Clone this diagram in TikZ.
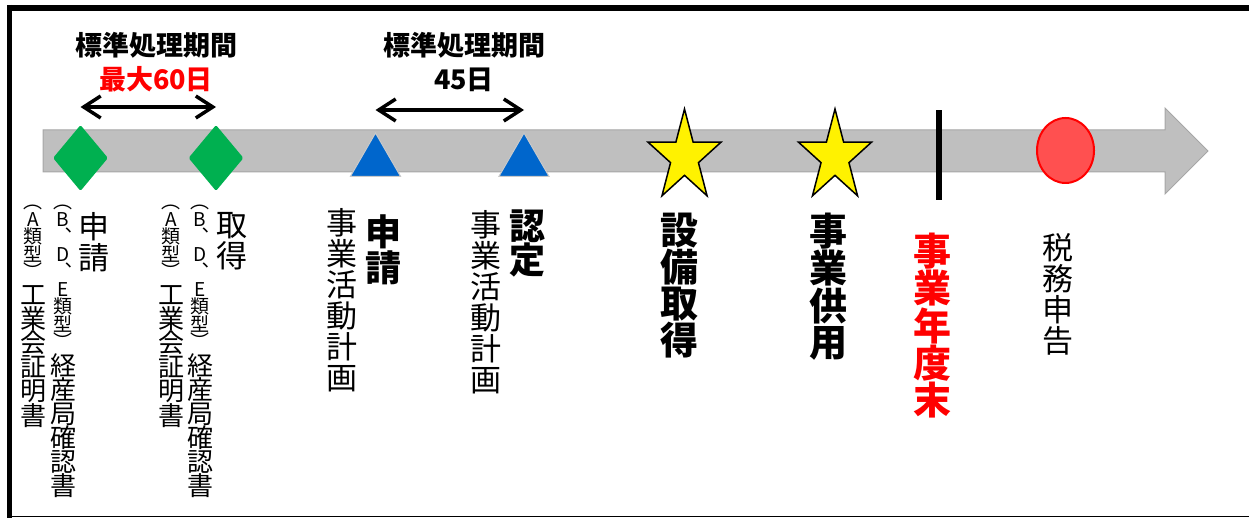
\documentclass[tikz,border=0pt]{standalone}
\usepackage{fontspec}
\usepackage{tikz}
\usetikzlibrary{shapes.geometric,arrows.meta,positioning}
\newfontfamily\jp{Noto Sans CJK JP}

\definecolor{tlgray}{HTML}{BFBFBF}
\definecolor{tledge}{HTML}{A6A6A6}
\definecolor{gemgreen}{HTML}{00B050}
\definecolor{triblue}{HTML}{0066CC}
\definecolor{dotred}{HTML}{FF5050}

\tikzset{
  timeline/.style={fill=tlgray, draw=tledge, line width=1pt},
  gem/.style={diamond, fill=gemgreen, minimum width=55pt, minimum height=66pt, inner sep=0pt, rounded corners=1.5pt},
  tri/.style={regular polygon, regular polygon sides=3, fill=triblue, draw=tledge!60, line width=1pt, minimum size=58pt, inner sep=0pt},
  bigstar/.style={star, star points=5, star point ratio=2.618, fill=yellow, draw=black, line width=1.5pt, minimum size=96pt, inner sep=0pt},
  spanarrow/.style={{Straight Barb[length=17pt,width=22pt]}-{Straight Barb[length=17pt,width=22pt]}, line width=3.5pt},
  hdr/.style={align=center, inner sep=0pt, font=\jp\bfseries\fontsize{27}{34}\selectfont},
  vt/.style={align=center, inner sep=0pt, anchor=north},
  tiny/.style={vt, font=\jp\fontsize{19}{17.5}\selectfont},
  doc/.style={vt, font=\jp\fontsize{26}{24}\selectfont},
  reg/.style={vt, font=\jp\fontsize{31}{31}\selectfont},
  heavy/.style={vt, font=\jp\bfseries\fontsize{38}{36}\selectfont},
}

\begin{document}
\begin{tikzpicture}[x=1pt, y=-1pt]
  \useasboundingbox (0,0) rectangle (1249,518);
  % frame
  \draw[line width=6pt] (7,8) -- (1249,8);
  \draw[line width=5.5pt] (9.5,5) -- (9.5,518);
  \draw[line width=1.5pt] (7,516.5) -- (1249,516.5);
  % time line
  \draw[timeline] (43,130) -- (1165,130) -- (1165,108) -- (1208,151) -- (1165,194) -- (1165,172) -- (43,172) -- cycle;

  % markers
  \node[gem] (d1) at (80.5,158) {};
  \node[gem] (d2) at (216,158) {};
  \node[tri] (t1) at (375.5,162) {};
  \node[tri] (t2) at (524,162) {};
  \begin{scope}[shift={(684.5,157)}, xscale=0.8]
    \node[bigstar, transform shape] (s1) at (0,0) {};
  \end{scope}
  \begin{scope}[shift={(835,157)}, xscale=0.8]
    \node[bigstar, transform shape] (s2) at (0,0) {};
  \end{scope}
  \node[fill=black, minimum width=6pt, minimum height=90pt, inner sep=0pt] (fyend) at (939,155) {};
  \node[ellipse, fill=dotred, draw=red, line width=2pt, minimum width=57pt, minimum height=65pt, inner sep=0pt] (tax) at (1065.5,150.5) {};

  % standard periods
  \draw[spanarrow] (d1 |- 0,107) -- (d2 |- 0,107);
  \node[hdr] (h1) at (156,62) {標準処理期間\\{\color{red}最大60日}};
  \draw[spanarrow] (t1 |- 0,110) -- (t2 |- 0,110);
  \node[hdr] (h2) at (464,62) {標準処理期間\\45日};

  % labels
  \node[tiny] (pa1) at (33,205) {︵\\A\\類\\型\\︶};
  \node[doc] (ca1) at (33,285) {工\\業\\会\\証\\明\\書};
  \node[tiny] (pb1) at (63,205) {︵\\B\\︑\\D\\︑\\E\\類\\型\\︶};
  \node[doc] (cb1) at (63,353) {経\\産\\局\\確\\認\\書};
  \node[reg] (apply) at (94,212) {申\\請};

  \node[tiny] (pa2) at (171,205) {︵\\A\\類\\型\\︶};
  \node[doc] (ca2) at (171,285) {工\\業\\会\\証\\明\\書};
  \node[tiny] (pb2) at (200,205) {︵\\B\\︑\\D\\︑\\E\\類\\型\\︶};
  \node[doc] (cb2) at (200,353) {経\\産\\局\\確\\認\\書};
  \node[reg] (obtain) at (232,212) {取\\得};

  \node[reg] (plan1) at (341.5,208) {事\\業\\活\\動\\計\\画};
  \node[heavy, font=\jp\bfseries\fontsize{36}{34}\selectfont] (plapp) at (383,215) {申\\請};
  \node[reg] (plan2) at (486,210) {事\\業\\活\\動\\計\\画};
  \node[heavy, font=\jp\bfseries\fontsize{36}{34}\selectfont] (plok) at (527.5,210) {認\\定};

  \node[heavy] (buy) at (679.5,213) {設\\備\\取\\得};
  \node[heavy] (use) at (828.5,213) {事\\業\\供\\用};
  \node[heavy, text=red] (fy) at (932,233) {事\\業\\年\\度\\末};
  \node[reg] (file) at (1057.5,233) {税\\務\\申\\告};
\end{tikzpicture}
\end{document}
